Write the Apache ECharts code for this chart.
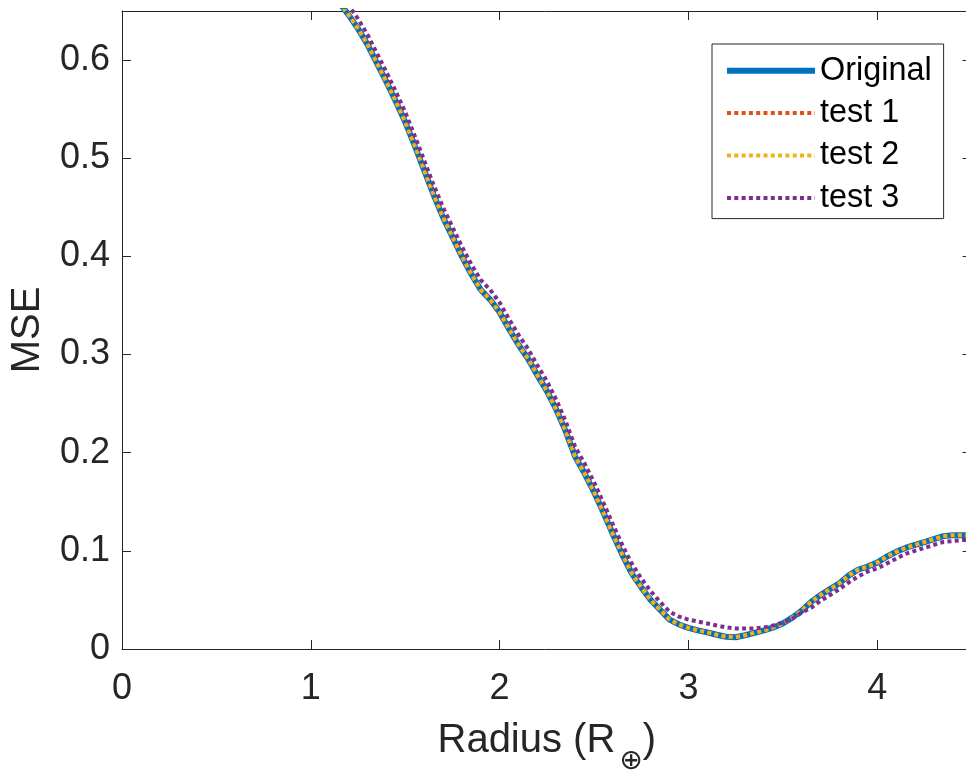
<!DOCTYPE html>
<html>
<head>
<meta charset="utf-8">
<script src="https://cdn.jsdelivr.net/npm/echarts@6/dist/echarts.min.js"></script>
<style>html,body{margin:0;padding:0;background:#fff;}#c{width:966px;height:773px;}</style>
</head>
<body>
<div id="c"></div>
<script>
// Radius values (R_earth)
const radius = [1.10,1.15,1.20,1.25,1.30,1.35,1.40,1.45,1.50,1.55,1.60,1.65,1.70,1.75,1.80,1.85,1.90,1.95,2.00,2.05,2.10,2.15,2.20,2.25,2.30,2.35,2.40,2.45,2.50,2.55,2.60,2.65,2.70,2.75,2.80,2.85,2.90,2.95,3.00,3.05,3.10,3.15,3.20,3.25,3.30,3.35,3.40,3.45,3.50,3.55,3.60,3.65,3.70,3.75,3.80,3.85,3.90,3.95,4.00,4.05,4.10,4.15,4.20,4.25,4.30,4.35,4.40,4.45,4.50];
const original = [0.671,0.659,0.646,0.632,0.616,0.597,0.578,0.558,0.537,0.513,0.488,0.463,0.440,0.420,0.400,0.382,0.366,0.356,0.343,0.326,0.310,0.296,0.279,0.263,0.244,0.222,0.196,0.179,0.160,0.139,0.117,0.096,0.077,0.063,0.050,0.040,0.030,0.025,0.0215,0.019,0.017,0.0145,0.0125,0.012,0.014,0.0165,0.019,0.022,0.026,0.032,0.039,0.048,0.055,0.061,0.067,0.075,0.081,0.084,0.088,0.094,0.099,0.103,0.106,0.109,0.112,0.115,0.116,0.116,0.116];
const test1 = [0.671,0.659,0.646,0.632,0.616,0.597,0.578,0.558,0.537,0.513,0.488,0.463,0.440,0.420,0.400,0.382,0.366,0.356,0.343,0.326,0.310,0.296,0.279,0.263,0.244,0.222,0.196,0.179,0.160,0.139,0.117,0.096,0.077,0.063,0.050,0.040,0.030,0.025,0.0215,0.019,0.017,0.0145,0.0125,0.012,0.014,0.0165,0.019,0.022,0.026,0.032,0.039,0.048,0.055,0.061,0.067,0.075,0.081,0.084,0.088,0.094,0.099,0.103,0.106,0.109,0.112,0.115,0.116,0.116,0.116];
const test2 = [0.671,0.659,0.646,0.632,0.616,0.597,0.578,0.558,0.537,0.513,0.488,0.463,0.440,0.420,0.400,0.382,0.366,0.356,0.343,0.326,0.310,0.296,0.279,0.263,0.244,0.222,0.196,0.179,0.160,0.139,0.117,0.096,0.077,0.063,0.050,0.040,0.030,0.025,0.0215,0.019,0.017,0.0145,0.0125,0.012,0.014,0.0165,0.019,0.022,0.026,0.032,0.039,0.048,0.055,0.061,0.067,0.075,0.081,0.084,0.088,0.094,0.099,0.103,0.106,0.109,0.112,0.115,0.116,0.116,0.116];
const test3 = [0.681,0.669,0.656,0.642,0.626,0.607,0.588,0.568,0.547,0.523,0.498,0.473,0.450,0.430,0.410,0.392,0.376,0.366,0.353,0.336,0.320,0.306,0.289,0.273,0.254,0.232,0.206,0.189,0.170,0.149,0.127,0.106,0.087,0.072,0.059,0.048,0.038,0.033,0.030,0.028,0.026,0.024,0.022,0.021,0.021,0.021,0.022,0.024,0.027,0.031,0.037,0.042,0.049,0.055,0.061,0.068,0.074,0.079,0.082,0.087,0.092,0.097,0.100,0.103,0.106,0.109,0.110,0.111,0.111];
const seriesNames = ['Original','test 1','test 2','test 3'];
const xTicks = [0,1,2,3,4];
const yTicks = [0,0.1,0.2,0.3,0.4,0.5,0.6];

const FONT = '"Liberation Sans", Arial, Helvetica, sans-serif';
const AX = '#262626';
const COLORS = ['#0072BD','#D95319','#EDB120','#7E2F8E'];
const DOT = [4,3.3];
const chart = echarts.init(document.getElementById('c'), null, {renderer:'canvas'});
const pairs = ys => radius.map((x,i)=>[x, ys[i]]);
const dotted = (name, color, ys) => ({
  name, type:'line', data: pairs(ys), symbol:'none', smooth:false,
  xAxisIndex:0, yAxisIndex:0,
  lineStyle:{color, width:4, type:DOT, cap:'butt'}, itemStyle:{color}
});
const axisCommon = {
  axisLine:{show:true, onZero:false, lineStyle:{color:AX, width:1}},
  axisTick:{show:true, inside:true, length:9, lineStyle:{color:AX, width:1}},
  splitLine:{show:false}
};
chart.setOption({
  animation:false,
  backgroundColor:'#fff',
  grid:{left:122, top:11, width:849.6, height:638, containLabel:false, outerBoundsMode:'none'},
  xAxis:[
    Object.assign({type:'value', min:0, max:4.5, interval:1, position:'bottom',
      axisLabel:{show:true, color:AX, fontSize:36, fontFamily:FONT, margin:22, showMaxLabel:false,
        formatter:v=> xTicks.includes(v) ? String(v) : ''},
      name:'{a|Radius (R}{b|⊕}{a|)}', nameLocation:'middle', nameGap:72,
      nameTextStyle:{rich:{
        a:{fontSize:40, fontFamily:FONT, color:AX, lineHeight:46, verticalAlign:'top'},
        b:{fontSize:28, fontFamily:'"DejaVu Sans", sans-serif', color:AX, lineHeight:28, padding:[27,0,0,4], verticalAlign:'top'}
      }}
    }, axisCommon),
    Object.assign({type:'value', min:0, max:4.5, interval:1, position:'top', axisLabel:{show:false}}, axisCommon)
  ],
  yAxis:[
    Object.assign({type:'value', min:0, max:0.65, interval:0.1, position:'left',
      axisLabel:{show:true, color:AX, fontSize:36, fontFamily:FONT, margin:12, showMaxLabel:false,
        formatter:v=> { const t = yTicks.find(k=>Math.abs(k-v)<1e-9); return t===undefined ? '' : String(t); }},
      name:'MSE', nameLocation:'middle', nameGap:74, nameRotate:90,
      nameTextStyle:{fontSize:40, fontFamily:FONT, color:AX}
    }, axisCommon),
    Object.assign({type:'value', min:0, max:0.65, interval:0.1, position:'right', axisLabel:{show:false}}, axisCommon)
  ],
  legend:{
    show:true, orient:'vertical', left:712, top:44,
    data:[
      {name:seriesNames[0], itemStyle:{opacity:0}, lineStyle:{color:COLORS[0], width:6, type:'solid'}},
      {name:seriesNames[1], itemStyle:{opacity:0}, lineStyle:{color:COLORS[1], width:4, type:DOT, cap:'butt'}},
      {name:seriesNames[2], itemStyle:{opacity:0}, lineStyle:{color:COLORS[2], width:4, type:DOT, cap:'butt'}},
      {name:seriesNames[3], itemStyle:{opacity:0}, lineStyle:{color:COLORS[3], width:4, type:DOT, cap:'butt'}}
    ],
    backgroundColor:'#fff', borderColor:AX, borderWidth:1,
    padding:[9,12,3,12], itemGap:7, itemWidth:88, itemHeight:14,
    textStyle:{fontSize:32.4, fontFamily:FONT, color:'#000', lineHeight:35.4},
    selectedMode:false
  },
  series:[
    {name:seriesNames[0], type:'line', data:pairs(original), symbol:'none', smooth:false,
     lineStyle:{color:COLORS[0], width:6}, itemStyle:{color:COLORS[0]}},
    dotted(seriesNames[1], COLORS[1], test1),
    dotted(seriesNames[2], COLORS[2], test2),
    dotted(seriesNames[3], COLORS[3], test3)
  ]
});
</script>
</body>
</html>
